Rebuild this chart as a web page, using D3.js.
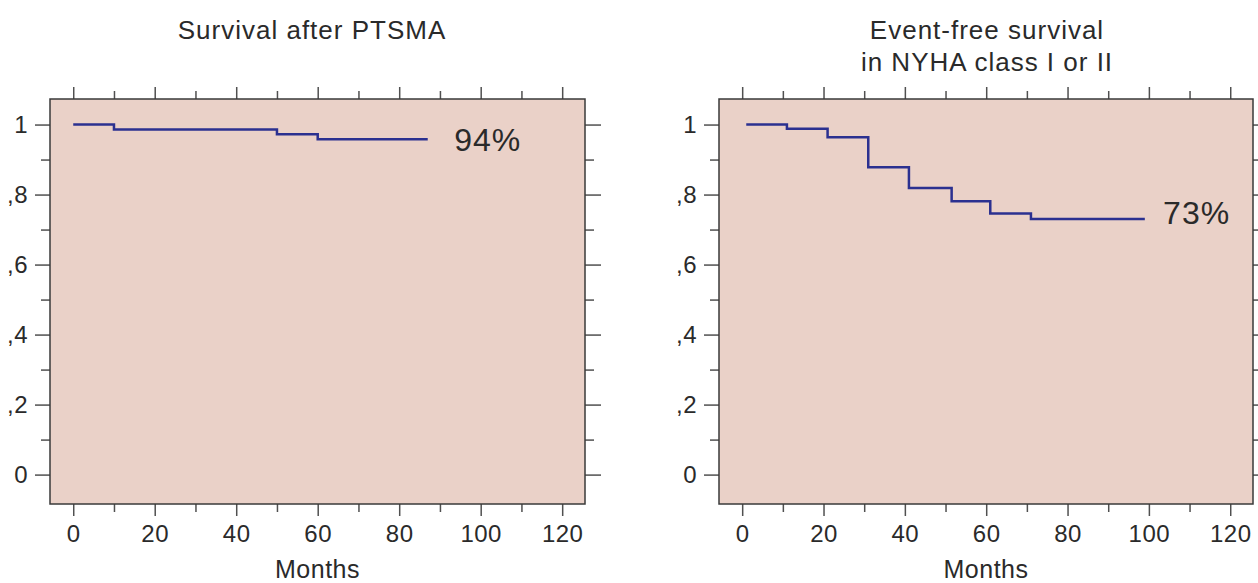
<!DOCTYPE html>
<html>
<head>
<meta charset="utf-8">
<script src="https://cdn.jsdelivr.net/npm/d3@7"></script>
<style>
  body { margin: 0; background: #ffffff; }
  svg text { font-family: "Liberation Sans", Arial, sans-serif; fill: #2a2a2a; }
</style>
</head>
<body>
<div id="chart"></div>
<script>
// Data
const survivalMonths = [0, 10, 50, 60, 87];
const survivalValues = [1.0, 0.986, 0.972, 0.958, 0.958];
const eventFreeMonths = [1, 11, 21, 31, 41, 51.5, 61, 71, 99];
const eventFreeValues = [1.0, 0.988, 0.964, 0.878, 0.819, 0.781, 0.746, 0.730, 0.730];

const xMajorTicks = [0, 20, 40, 60, 80, 100, 120];
const xMinorTicks = [10, 30, 50, 70, 90, 110];
const yMajorTicks = [0, 0.2, 0.4, 0.6, 0.8, 1];
const yMinorTicks = [0.1, 0.3, 0.5, 0.7, 0.9];
const yTickLabels = ["0", ",2", ",4", ",6", ",8", "1"];

const titles = [["Survival after PTSMA"], ["Event-free survival", "in NYHA class I or II"]];
const endLabels = ["94%", "73%"];

let width = 1258,
    height = 583;

let svg = d3.select('#chart')
    .append('svg')
    .attr('width', width)
    .attr('height', height);

const panels = [
    { left: 50, right: 585, months: survivalMonths, values: survivalValues, label: endLabels[0], labelAt: 93.5, labelDy: 0, title: titles[0], titleX: 312 },
    { left: 719, right: 1253, months: eventFreeMonths, values: eventFreeValues, label: endLabels[1], labelAt: 103.5, labelDy: -7, title: titles[1], titleX: 987 }
];

const plotTop = 99, plotBottom = 504;
const lineColor = '#2b3090';
const axisColor = '#505050';

panels.forEach(function(p) {
    let xScale = d3.scaleLinear()
        .domain([-5.7, 125.6])
        .range([p.left, p.right]);

    let yScale = d3.scaleLinear()
        .domain([-0.084, 1.073])
        .range([plotBottom, plotTop]);

    let g = svg.append('g');

    // plot background
    g.append('rect')
        .attr('x', p.left)
        .attr('y', plotTop)
        .attr('width', p.right - p.left)
        .attr('height', plotBottom - plotTop)
        .attr('fill', '#ead1c8');

    // helper to style an axis
    function styleAxis(sel, hideText) {
        sel.select('.domain').remove();
        sel.selectAll('line').attr('stroke', axisColor).attr('stroke-width', 1.5);
        sel.selectAll('text')
            .style('font-size', '24px')
            .style('letter-spacing', '0.5px')
            .attr('fill', '#2a2a2a');
        if (hideText) sel.selectAll('text').remove();
    }

    // bottom axis
    g.append('g')
        .attr('transform', `translate(0,${plotBottom})`)
        .call(d3.axisBottom(xScale).tickValues(xMajorTicks).tickSize(12).tickPadding(9).tickFormat(d3.format('d')))
        .call(s => styleAxis(s, false));
    g.append('g')
        .attr('transform', `translate(0,${plotBottom})`)
        .call(d3.axisBottom(xScale).tickValues(xMinorTicks).tickSize(8))
        .call(s => styleAxis(s, true));

    // top axis
    g.append('g')
        .attr('transform', `translate(0,${plotTop})`)
        .call(d3.axisTop(xScale).tickValues(xMajorTicks).tickSize(12))
        .call(s => styleAxis(s, true));
    g.append('g')
        .attr('transform', `translate(0,${plotTop})`)
        .call(d3.axisTop(xScale).tickValues(xMinorTicks).tickSize(8))
        .call(s => styleAxis(s, true));

    // left axis
    g.append('g')
        .attr('transform', `translate(${p.left},0)`)
        .call(d3.axisLeft(yScale).tickValues(yMajorTicks).tickSize(15).tickPadding(7)
            .tickFormat((d, i) => yTickLabels[i]))
        .call(s => styleAxis(s, false));
    g.append('g')
        .attr('transform', `translate(${p.left},0)`)
        .call(d3.axisLeft(yScale).tickValues(yMinorTicks).tickSize(9))
        .call(s => styleAxis(s, true));

    // right axis
    g.append('g')
        .attr('transform', `translate(${p.right},0)`)
        .call(d3.axisRight(yScale).tickValues(yMajorTicks).tickSize(16))
        .call(s => styleAxis(s, true));
    g.append('g')
        .attr('transform', `translate(${p.right},0)`)
        .call(d3.axisRight(yScale).tickValues(yMinorTicks).tickSize(9))
        .call(s => styleAxis(s, true));

    // frame
    g.append('rect')
        .attr('x', p.left)
        .attr('y', plotTop)
        .attr('width', p.right - p.left)
        .attr('height', plotBottom - plotTop)
        .attr('fill', 'none')
        .attr('stroke', '#3a3a3a')
        .attr('stroke-width', 1.5);

    // survival step line
    const pts = p.months.map((m, i) => [m, p.values[i]]);
    const line = d3.line()
        .x(d => xScale(d[0]))
        .y(d => yScale(d[1]))
        .curve(d3.curveStepAfter);

    g.append('path')
        .datum(pts)
        .attr('d', line)
        .attr('fill', 'none')
        .attr('stroke', lineColor)
        .attr('stroke-width', 2.5);

    // end label
    g.append('text')
        .attr('x', xScale(p.labelAt))
        .attr('y', yScale(p.values[p.values.length - 1]) + p.labelDy)
        .attr('dy', '0.36em')
        .style('font-size', '32px')
        .style('letter-spacing', '1px')
        .text(p.label);

    // x-axis label
    g.append('text')
        .attr('x', (p.left + p.right) / 2)
        .attr('y', 578)
        .style('text-anchor', 'middle')
        .style('font-size', '25px')
        .style('letter-spacing', '0.5px')
        .text('Months');

    // title
    p.title.forEach(function(t, i) {
        g.append('text')
            .attr('x', p.titleX)
            .attr('y', 39 + i * 32)
            .style('text-anchor', 'middle')
            .style('font-size', '26px')
            .style('letter-spacing', '1px')
            .text(t);
    });
});
</script>
</body>
</html>
